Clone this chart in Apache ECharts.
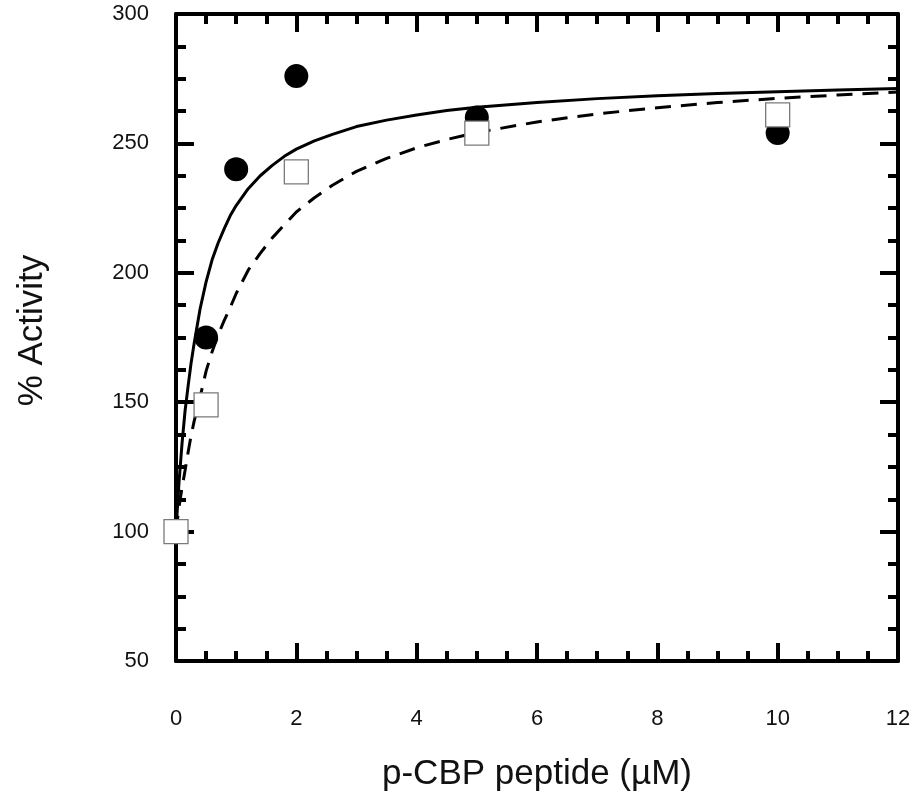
<!DOCTYPE html>
<html>
<head>
<meta charset="utf-8">
<script src="https://cdn.jsdelivr.net/npm/echarts@6/dist/echarts.min.js"></script>
<style>html,body{margin:0;padding:0;background:#fff}#c{width:914px;height:793px}</style>
</head>
<body>
<div id="c"></div>
<script>
// Measured data points
var xPoints = [0, 0.5, 1, 2, 5, 10];
var circleValues = [100, 175, 240, 276, 260, 254];
var squareX = [0, 0.5, 2, 5, 10];
var squareValues = [100, 149, 239, 254, 261];

// Fitted curves, values
var curveX = [0, 0.02, 0.05, 0.1, 0.15, 0.2, 0.25, 0.3, 0.4, 0.5, 0.6, 0.7, 0.8, 0.9, 1.0, 1.2, 1.4, 1.6, 1.8, 2.0, 2.3, 2.6, 3.0, 3.5, 4, 4.5, 5, 6, 7, 8, 9, 10, 11, 12];
var solidCurve = [100, 108, 119, 134, 146.5, 156, 165, 172.5, 186, 196.5, 205, 211.5, 217, 222, 226, 232.5, 237.5, 241.5, 245, 247.8, 251, 253.5, 256.5, 259, 261, 262.7, 264, 265.8, 267.3, 268.4, 269.3, 270, 270.6, 271.2];
var dashedCurve = [100, 103.8, 109.5, 117, 123.5, 130.5, 137, 142.5, 152, 162, 169.5, 176, 181.5, 186.5, 192, 201, 207.5, 213.5, 218.5, 223.5, 229, 233.8, 239.2, 244.2, 248.3, 251.5, 254.2, 258.3, 261.4, 263.8, 265.8, 267.4, 268.7, 269.9];

var xTickLabels = ['0', '2', '4', '6', '8', '10', '12'];
var yTickLabels = ['50', '100', '150', '200', '250', '300'];

function pairs(xs, ys) { return xs.map(function (x, i) { return [x, ys[i]]; }); }

var font = '"Liberation Sans", Arial, sans-serif';
var axisLine = { show: true, onZero: false, lineStyle: { color: '#000', width: 4 } };
function tickCfg(len) { return { show: true, inside: true, length: len, lineStyle: { color: '#000', width: 4 } }; }
function minorCfg(len) { return { show: true, splitNumber: 4, length: len, lineStyle: { color: '#000', width: 4 } }; }

var chart = echarts.init(document.getElementById('c'), null, { renderer: 'canvas' });
chart.setOption({
  animation: false,
  backgroundColor: '#fff',
  grid: { left: 176, right: 16, top: 14, bottom: 132, containLabel: false, outerBoundsMode: 'none' },
  xAxis: [{
    type: 'value', min: 0, max: 12, interval: 2, position: 'bottom',
    axisLine: axisLine, axisTick: tickCfg(18), minorTick: minorCfg(10),
    splitLine: { show: false },
    axisLabel: { margin: 47, fontSize: 22, color: '#111', fontFamily: font,
      formatter: function (v) { return xTickLabels[Math.round(v / 2)]; } },
    name: 'p-CBP peptide (µM)', nameLocation: 'middle', nameGap: 96,
    nameTextStyle: { fontSize: 35, color: '#111', fontFamily: font }
  }, {
    type: 'value', min: 0, max: 12, interval: 2, position: 'top',
    axisLine: axisLine, axisTick: tickCfg(18), minorTick: minorCfg(10),
    splitLine: { show: false }, axisLabel: { show: false }
  }],
  yAxis: [{
    type: 'value', min: 50, max: 300, interval: 50, position: 'left',
    axisLine: axisLine, axisTick: tickCfg(18), minorTick: minorCfg(10),
    splitLine: { show: false },
    axisLabel: { margin: 27, fontSize: 22, color: '#111', fontFamily: font,
      formatter: function (v) { return yTickLabels[Math.round((v - 50) / 50)]; } },
    name: '% Activity', nameLocation: 'middle', nameGap: 126, nameRotate: 90,
    nameTextStyle: { fontSize: 35, color: '#111', fontFamily: font, padding: [0, 0, 0, 14] }
  }, {
    type: 'value', min: 50, max: 300, interval: 50, position: 'right',
    axisLine: axisLine, axisTick: tickCfg(18), minorTick: minorCfg(10),
    splitLine: { show: false }, axisLabel: { show: false }
  }],
  series: [{
    type: 'line', data: pairs(curveX, solidCurve), showSymbol: false, symbol: 'none',
    smooth: false, clip: true, z: 2,
    lineStyle: { color: '#000', width: 3, join: 'round' }
  }, {
    type: 'line', data: pairs(curveX, dashedCurve), showSymbol: false, symbol: 'none',
    smooth: false, clip: true, z: 2,
    lineStyle: { color: '#000', width: 3, type: [16, 10], join: 'round' }
  }, {
    type: 'scatter', data: pairs(xPoints, circleValues), symbol: 'circle', symbolSize: 24,
    itemStyle: { color: '#000', opacity: 1 }, clip: false, z: 3
  }, {
    type: 'scatter', data: pairs(squareX, squareValues), symbol: 'rect', symbolSize: 24,
    itemStyle: { color: '#fff', borderColor: '#7a7a7a', borderWidth: 1.3, opacity: 1 }, clip: false, z: 4
  }]
});
</script>
</body>
</html>
